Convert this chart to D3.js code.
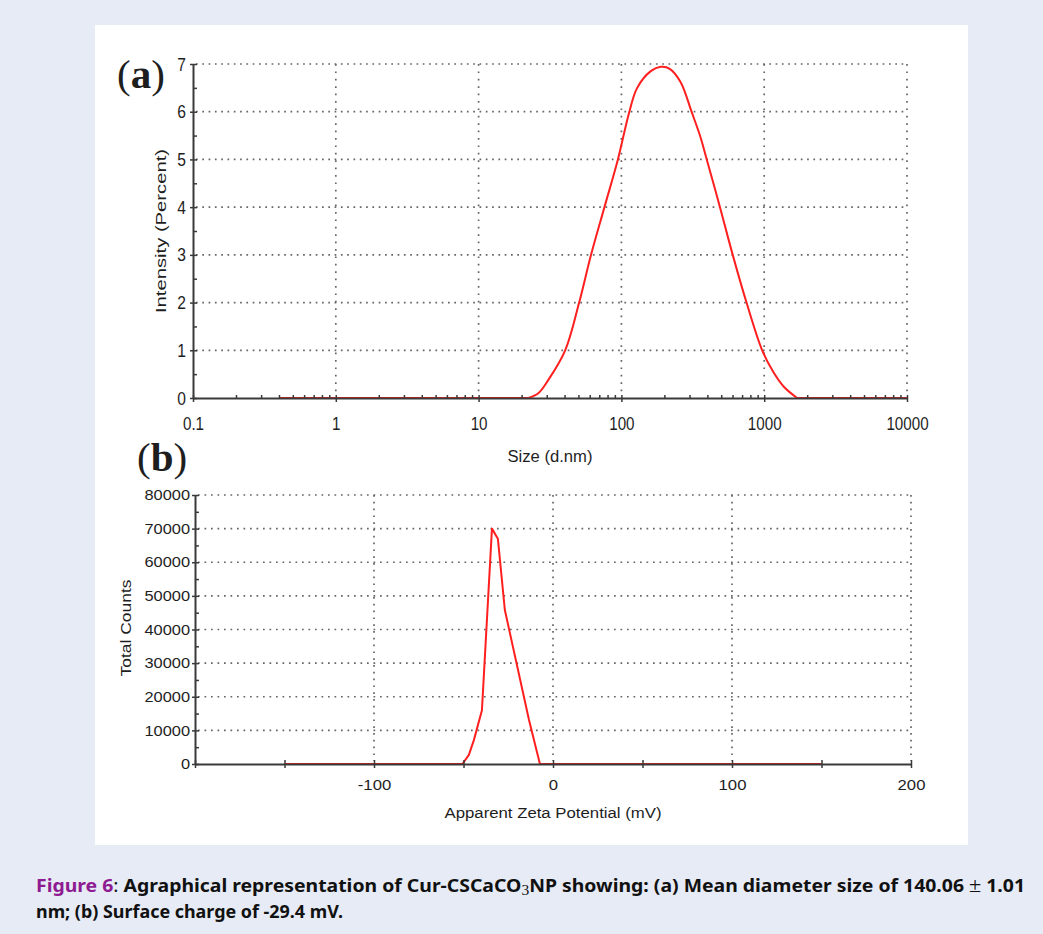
<!doctype html>
<html lang="en">
<head>
<meta charset="UTF-8">
<title>Figure 6</title>
<style>
  body { margin: 0; background: #e6ebf5; }
  svg text { font-family: "Liberation Sans", Arial, sans-serif; fill: #1e1e1e; }
</style>
</head>
<body>
<svg id="fig" width="1043" height="934"></svg>
<script src="https://cdn.jsdelivr.net/npm/d3@7/dist/d3.min.js"></script>
<script>
// (a) size distribution by intensity
let sizeNm    = [0.4, 22.3, 26.2, 30.8, 40.4, 50.6, 61.3, 76.1, 94.5, 113.7, 129, 160.6, 188.5, 218, 260, 310, 355, 396, 490, 602, 752, 968, 1156, 1378, 1700, 10000];
let intensity = [0,   0,    0.1,  0.38, 1.0,  2.0,  3.0,  4.0,  5.0,  6.0,   6.5, 6.85,  6.94,  6.9, 6.62, 6.0, 5.5,  5.0, 4.0, 3.0, 2.0, 1.0, 0.55, 0.23, 0, 0];
let sizeTicks = [0.1, 1, 10, 100, 1000, 10000];
let intensityTicks = [0, 1, 2, 3, 4, 5, 6, 7];

// (b) zeta potential distribution
let zetaMv      = [-150, -50.6, -47, -44.2, -39.7, -34.1, -30.8, -26.9, -13.4, -7.3, 150];
let totalCounts = [0,    0,     2700, 7100, 16000, 70000, 67000, 45800, 13100, 0,    0];
let zetaTicks  = [-100, 0, 100, 200];
let countTicks = [0, 10000, 20000, 30000, 40000, 50000, 60000, 70000, 80000];

let svg = d3.select("#fig");

svg.append("rect")
    .attr("x", 95).attr("y", 25)
    .attr("width", 873).attr("height", 820)
    .attr("fill", "#ffffff");

// squeeze / widen text to match the bitmap look
function stretch(sel, k) {
    sel.each(function() {
        let w = this.getComputedTextLength();
        d3.select(this).attr("textLength", w * k).attr("lengthAdjust", "spacingAndGlyphs");
    });
}

function styleAxis(g) {
    g.select(".domain").attr("stroke", "#3a3a3a").attr("stroke-width", 2);
    g.selectAll(".tick line").attr("stroke", "#3a3a3a").attr("stroke-width", 1.5);
}

const grid = "#666";
const red = "#ff1f1f";

// ---------------- chart (a) ----------------
let a = {left: 193, right: 907, top: 64, bottom: 398};
let xA = d3.scaleLog().domain([0.1, 10000]).range([a.left, a.right]);
let yA = d3.scaleLinear().domain([0, 7]).range([a.bottom, a.top]);

let gA = svg.append("g");

gA.selectAll(".hgrid")
    .data(intensityTicks.slice(1))
    .enter().append("line")
    .attr("x1", a.left + 3).attr("x2", a.right)
    .attr("y1", d => yA(d)).attr("y2", d => yA(d))
    .attr("stroke", grid).attr("stroke-width", 1.7)
    .attr("stroke-dasharray", "1.7,4.6");

gA.selectAll(".vgrid")
    .data(sizeTicks.slice(1))
    .enter().append("line")
    .attr("x1", d => xA(d)).attr("x2", d => xA(d))
    .attr("y1", a.top).attr("y2", a.bottom - 3)
    .attr("stroke", grid).attr("stroke-width", 1.7)
    .attr("stroke-dasharray", "1.7,5.7");

let ptsA = sizeNm.map((s, i) => [s, intensity[i]]);
// the hump is smoothed, the zero baseline on both sides stays straight
let first = ptsA.findIndex((p, i) => i + 1 < ptsA.length && ptsA[i + 1][1] > 0);
let last = ptsA.length - 1 - [...ptsA].reverse().findIndex((p, i, r) => i + 1 < r.length && r[i + 1][1] > 0);

let smoothA = d3.line()
    .x(d => xA(d[0]))
    .y(d => yA(d[1]))
    .curve(d3.curveCatmullRom.alpha(0.5));
let flatA = d3.line()
    .x(d => xA(d[0]))
    .y(d => yA(d[1]));

gA.append("path")
    .datum(ptsA.slice(0, first + 1))
    .attr("fill", "none").attr("stroke", red).attr("stroke-width", 2)
    .attr("d", flatA);
gA.append("path")
    .datum(ptsA.slice(first, last + 1))
    .attr("fill", "none").attr("stroke", red).attr("stroke-width", 2)
    .attr("d", smoothA);
gA.append("path")
    .datum(ptsA.slice(last))
    .attr("fill", "none").attr("stroke", red).attr("stroke-width", 2)
    .attr("d", flatA);

// minor ticks
let minorSize = [];
[0.1, 1, 10, 100, 1000].forEach(d => { for (let k = 2; k < 10; k++) minorSize.push(d * k); });
let minorInt = d3.range(0.5, 7, 1);

gA.append("g")
    .attr("transform", `translate(0,${a.bottom})`)
    .call(d3.axisBottom(xA).tickValues(minorSize.concat(sizeTicks)).tickSize(-3).tickFormat(""))
    .call(g => g.select(".domain").remove())
    .call(styleAxis);

let axAx = gA.append("g")
    .attr("transform", `translate(0,${a.bottom})`)
    .call(d3.axisBottom(xA).tickValues(sizeTicks).tickSize(4).tickSizeOuter(0).tickPadding(15).tickFormat(d => d))
    .call(styleAxis);
axAx.selectAll("text").style("font-size", "18.5px").call(stretch, 0.82);

gA.append("g")
    .attr("transform", `translate(${a.left},0)`)
    .call(d3.axisLeft(yA).tickValues(minorInt.concat(intensityTicks)).tickSize(-4).tickFormat(""))
    .call(g => g.select(".domain").remove())
    .call(styleAxis);

let ayAx = gA.append("g")
    .attr("transform", `translate(${a.left},0)`)
    .call(d3.axisLeft(yA).tickValues(intensityTicks).tickSize(3).tickSizeOuter(0).tickPadding(4).tickFormat(d => d))
    .call(styleAxis);
ayAx.selectAll("text").style("font-size", "19px").call(stretch, 0.82);

gA.append("text")
    .attr("x", 550).attr("y", 462)
    .attr("text-anchor", "middle")
    .style("font-size", "16px")
    .text("Size (d.nm)")
    .attr("textLength", 85).attr("lengthAdjust", "spacingAndGlyphs");

gA.append("text")
    .attr("transform", "translate(166,231) rotate(-90)")
    .attr("text-anchor", "middle")
    .style("font-size", "15.5px")
    .text("Intensity (Percent)")
    .attr("textLength", 164).attr("lengthAdjust", "spacingAndGlyphs");

let labA = gA.append("text")
    .attr("x", 117).attr("y", 88)
    .style("font-family", "'Liberation Serif', 'Times New Roman', serif")
    .style("font-size", "41px");
labA.append("tspan").text("(");
labA.append("tspan").style("font-weight", "bold").text("a");
labA.append("tspan").text(")");

// ---------------- chart (b) ----------------
let b = {left: 195, right: 911, top: 495, bottom: 764};
let xB = d3.scaleLinear().domain([-200, 200]).range([b.left, b.right]);
let yB = d3.scaleLinear().domain([0, 80000]).range([b.bottom, b.top]);

let gB = svg.append("g");

gB.selectAll(".hgrid")
    .data(countTicks.slice(1))
    .enter().append("line")
    .attr("x1", b.left + 3).attr("x2", b.right)
    .attr("y1", d => yB(d)).attr("y2", d => yB(d))
    .attr("stroke", grid).attr("stroke-width", 1.7)
    .attr("stroke-dasharray", "1.7,4.8");

gB.selectAll(".vgrid")
    .data(zetaTicks)
    .enter().append("line")
    .attr("x1", d => xB(d)).attr("x2", d => xB(d))
    .attr("y1", b.top).attr("y2", b.bottom - 3)
    .attr("stroke", grid).attr("stroke-width", 1.7)
    .attr("stroke-dasharray", "1.7,5.1");

let lineB = d3.line()
    .x((d, i) => xB(zetaMv[i]))
    .y(d => yB(d));

gB.append("path")
    .datum(totalCounts)
    .attr("fill", "none")
    .attr("stroke", red)
    .attr("stroke-width", 2)
    .attr("stroke-linejoin", "round")
    .attr("d", lineB);

let zetaMinor = d3.range(-200, 201, 50);
let countMinor = d3.range(0, 80001, 5000);

gB.append("g")
    .attr("transform", `translate(0,${b.bottom})`)
    .call(d3.axisBottom(xB).tickValues(zetaMinor).tickSize(-4).tickFormat(""))
    .call(g => g.select(".domain").remove())
    .call(styleAxis);

let bxAx = gB.append("g")
    .attr("transform", `translate(0,${b.bottom})`)
    .call(d3.axisBottom(xB).tickValues(zetaMinor).tickSize(4).tickSizeOuter(0).tickPadding(12)
        .tickFormat(d => zetaTicks.includes(d) ? d : ""))
    .call(styleAxis);
bxAx.selectAll("text").style("font-size", "14.5px").call(stretch, 1.15);

gB.append("g")
    .attr("transform", `translate(${b.left},0)`)
    .call(d3.axisLeft(yB).tickValues(countMinor).tickSize(-4).tickFormat(""))
    .call(g => g.select(".domain").remove())
    .call(styleAxis);

let byAx = gB.append("g")
    .attr("transform", `translate(${b.left},0)`)
    .call(d3.axisLeft(yB).tickValues(countTicks).tickSize(3).tickSizeOuter(0).tickPadding(2).tickFormat(d => d))
    .call(styleAxis);
byAx.selectAll("text").style("font-size", "14.5px").call(stretch, 1.13);

gB.append("text")
    .attr("x", 553).attr("y", 818)
    .attr("text-anchor", "middle")
    .style("font-size", "14px")
    .text("Apparent Zeta Potential (mV)")
    .attr("textLength", 217).attr("lengthAdjust", "spacingAndGlyphs");

gB.append("text")
    .attr("transform", "translate(131,628) rotate(-90)")
    .attr("text-anchor", "middle")
    .style("font-size", "14px")
    .text("Total Counts")
    .attr("textLength", 97).attr("lengthAdjust", "spacingAndGlyphs");

let labB = gB.append("text")
    .attr("x", 137).attr("y", 471)
    .style("font-family", "'Liberation Serif', 'Times New Roman', serif")
    .style("font-size", "41px");
labB.append("tspan").text("(");
labB.append("tspan").style("font-weight", "bold").text("b");
labB.append("tspan").text(")");

// ---------------- caption ----------------
let cap1 = svg.append("text")
    .attr("x", 36).attr("y", 892)
    .style("font-family", "'Noto Sans', sans-serif")
    .style("font-size", "17.5px")
    .style("font-weight", "bold")
    .style("fill", "#111");
cap1.append("tspan").style("fill", "#8e1b91").text("Figure 6");
cap1.append("tspan").style("font-weight", "normal").text(": ");
cap1.append("tspan").text("Agraphical representation of Cur-CSCaCO");
cap1.append("tspan").attr("dy", 3)
    .style("font-weight", "normal").style("font-size", "14px")
    .style("font-family", "'Liberation Serif', serif").text("3");
cap1.append("tspan").attr("dy", -3).text("NP showing: (a) Mean diameter size of 140.06 ");
cap1.append("tspan").style("font-weight", "normal").style("font-size", "20px")
    .style("font-family", "'Liberation Serif', serif").text("±");
cap1.append("tspan").text(" 1.01");
cap1.attr("textLength", 989).attr("lengthAdjust", "spacingAndGlyphs");

svg.append("text")
    .attr("x", 36).attr("y", 918)
    .style("font-family", "'Noto Sans', sans-serif")
    .style("font-size", "17.5px")
    .style("font-weight", "bold")
    .style("fill", "#111")
    .text("nm; (b) Surface charge of -29.4 mV.")
    .attr("textLength", 307).attr("lengthAdjust", "spacingAndGlyphs");
</script>
</body>
</html>
